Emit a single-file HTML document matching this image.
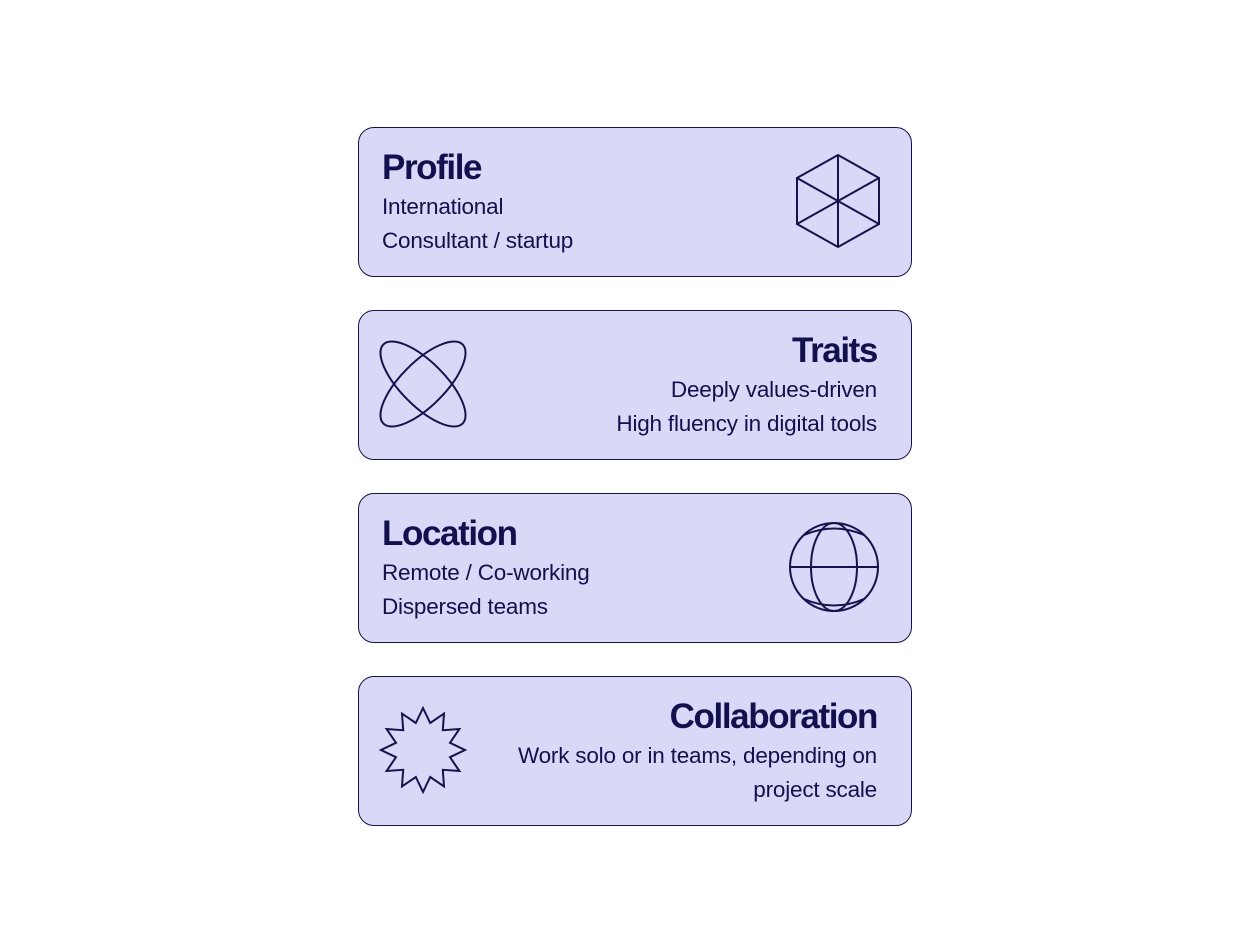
<!DOCTYPE html>
<html><head><meta charset="utf-8"><style>
body{margin:0;width:1238px;height:952px;background:#fff;font-family:"Liberation Sans",sans-serif;position:relative;overflow:hidden}
.card{position:absolute;left:358px;width:552px;height:148px;background:#d9d8f6;border:1.5px solid #15134f;border-radius:16px;box-sizing:content-box}
.t{position:absolute;top:20px;font-weight:bold;font-size:35px;letter-spacing:-1.4px;color:#12104f;line-height:40px}
.l{position:absolute;font-size:22.5px;color:#12104f;line-height:34px;letter-spacing:-0.2px}
.left{left:23px;text-align:left}.right{right:34px;text-align:right}
svg{position:absolute;left:0;top:0}
</style></head><body>
<div class="card" style="top:127px">
<div class="t left">Profile</div>
<div class="l left" style="top:62px">International<br>Consultant / startup</div>
</div>
<div class="card" style="top:310px">
<div class="t right">Traits</div>
<div class="l right" style="top:62px">Deeply values-driven<br>High fluency in digital tools</div>
</div>
<div class="card" style="top:493px">
<div class="t left">Location</div>
<div class="l left" style="top:62px">Remote / Co-working<br>Dispersed teams</div>
</div>
<div class="card" style="top:676px">
<div class="t right">Collaboration</div>
<div class="l right" style="top:62px">Work solo or in teams, depending on<br>project scale</div>
</div>
<svg width="1238" height="952" fill="none" stroke="#15134f" stroke-width="2">
<g>
<polygon points="838,155 879,178 879,224 838,247 797,224 797,178"/>
<line x1="838" y1="155" x2="838" y2="247"/><line x1="797" y1="178" x2="879" y2="224"/><line x1="879" y1="178" x2="797" y2="224"/>
</g>
<g>
<ellipse cx="423" cy="384" rx="56" ry="22" transform="rotate(45 423 384)"/>
<ellipse cx="423" cy="384" rx="56" ry="22" transform="rotate(-45 423 384)"/>
</g>
<g>
<circle cx="834" cy="567" r="44"/><ellipse cx="834" cy="567" rx="23" ry="44"/>
<line x1="790" y1="567" x2="878" y2="567"/>
<path d="M804 535 Q834 522 864 535"/><path d="M804 599 Q834 612 864 599"/>
</g>
<polygon id="star"/>
</svg>
<script>
const s=document.getElementById('star');let p=[];
for(let i=0;i<24;i++){const r=i%2?28:42,a=-Math.PI/2+i*Math.PI/12;p.push((423+r*Math.cos(a)).toFixed(1)+','+(750+r*Math.sin(a)).toFixed(1));}
s.setAttribute('points',p.join(' '));
</script>
</body></html>
